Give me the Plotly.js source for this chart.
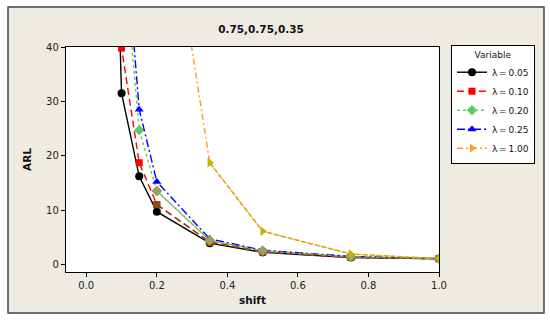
<!DOCTYPE html>
<html>
<head>
<meta charset="utf-8">
<script src="https://cdn.plot.ly/plotly-3.0.1.min.js"></script>
<style>html,body{margin:0;padding:0;background:#fff;}#chart{width:550px;height:324px;}</style>
</head>
<body>
<div id="chart"></div>
<script>
// Data
const shift = [0.05, 0.1, 0.15, 0.2, 0.35, 0.5, 0.75, 1.0];
const arl005 = [140, 31.5, 16.2, 9.7, 3.9, 2.2, 1.25, 1.03];
const arl010 = [170, 39.8, 18.7, 11.0, 4.1, 2.3, 1.3, 1.04];
const arl020 = [200, 62, 24.7, 13.5, 4.4, 2.5, 1.4, 1.05];
const arl025 = [220, 69, 28.5, 15.2, 4.7, 2.6, 1.45, 1.06];
const arl100 = [150, 120, 101, 81, 18.7, 6.1, 1.9, 1.03];
const seriesNames = ['λ\u2009=\u20090.05', 'λ\u2009=\u20090.10', 'λ\u2009=\u20090.20', 'λ\u2009=\u20090.25', 'λ\u2009=\u20091.00'];
const xTicks = [0.0, 0.2, 0.4, 0.6, 0.8, 1.0];
const yTicks = [0, 10, 20, 30, 40];

const specs = [
  {y: arl005, color: '#000000', dash: 'solid', symbol: 'circle', size: 8},
  {y: arl010, color: '#ff0000', dash: '7px,4px', symbol: 'square', size: 7, alt: '#8b4a1c', from: 3},
  {y: arl020, color: '#5ccc5c', dash: '3px,3px', symbol: 'diamond', size: 8, alt: '#9aa060', from: 3},
  {y: arl025, color: '#0000ff', dash: '8px,3px,2px,3px', symbol: 'triangle-up', size: 8},
  {y: arl100, color: '#ff9a1a', dash: '6px,3px,2px,3px', symbol: 'triangle-right', size: 8, alt: '#c2b400', from: 4}
];

const traces = [];
specs.forEach((s, i) => {
  traces.push({
    x: shift, y: s.y, name: seriesNames[i], type: 'scatter', mode: 'lines+markers',
    line: {color: s.color, width: 1.4, dash: s.dash},
    marker: {color: s.color, symbol: s.symbol, size: s.size}
  });
});
specs.forEach((s, i) => {
  if (s.alt) {
    traces.push({
      x: shift.slice(s.from), y: s.y.slice(s.from), type: 'scatter', mode: 'lines+markers',
      showlegend: false, hoverinfo: 'skip',
      line: {color: s.alt, width: 1.4, dash: s.dash},
      marker: {color: s.alt, symbol: s.symbol, size: s.size}
    });
  }
});

const L = 66, R = 439, T = 47, B = 272;
const px = v => (v - L) / (R - L);
const py = v => (B - v) / (B - T);

const FAM = 'DejaVu Sans, Verdana, sans-serif';
const font = {family: FAM, size: 10, color: '#222'};
const layout = {
  width: 550, height: 324,
  margin: {l: L, r: 550 - R, t: T, b: 324 - B, pad: 0},
  paper_bgcolor: '#ffffff', plot_bgcolor: 'rgba(0,0,0,0)',
  font: font,
  showlegend: true,
  title: {text: '<b>0.75,0.75,0.35</b>', font: {family: FAM, size: 10.5, color: '#111'},
          xref: 'paper', x: px(261), xanchor: 'center', yref: 'container', y: 1 - 29/324, yanchor: 'middle'},
  xaxis: {
    range: [-0.0575, 1.0], tickvals: xTicks, ticktext: xTicks.map(v => v.toFixed(1)),
    showgrid: false, zeroline: false, showline: true, mirror: true, linecolor: '#000', linewidth: 1.2,
    ticks: 'outside', ticklen: 4, tickcolor: '#000', tickfont: font,
    title: {text: '<b>shift</b>', font: {family: FAM, size: 10.5, color: '#111'}, standoff: 6}
  },
  yaxis: {
    range: [-1.41, 40], tickvals: yTicks,
    showgrid: false, zeroline: false, showline: true, mirror: true, linecolor: '#000', linewidth: 1.2,
    ticks: 'outside', ticklen: 4, tickcolor: '#000', tickfont: font,
    title: {text: '<b>ARL</b>', font: {family: FAM, size: 10.5, color: '#111'}, standoff: 12}
  },
  legend: {
    x: px(451), xanchor: 'left', y: py(45), yanchor: 'top',
    bgcolor: '#ffffff', bordercolor: '#000', borderwidth: 1,
    font: {family: FAM, size: 9, color: '#111'},
    title: {text: 'Variable', side: 'top center', font: {family: FAM, size: 9, color: '#111'}},
    itemwidth: 30, tracegroupgap: 0
  },
  shapes: [
    {type: 'rect', xref: 'paper', yref: 'paper', x0: px(8), x1: px(544), y0: py(313), y1: py(7),
     fillcolor: '#eeebe2', line: {color: '#444', width: 1.5}, layer: 'below'},
    {type: 'rect', xref: 'paper', yref: 'paper', x0: 0, x1: 1, y0: 0, y1: 1,
     fillcolor: '#ffffff', line: {width: 0}, layer: 'below'}
  ]
};

Plotly.newPlot('chart', traces, layout, {displayModeBar: false, staticPlot: true});
</script>
</body>
</html>
